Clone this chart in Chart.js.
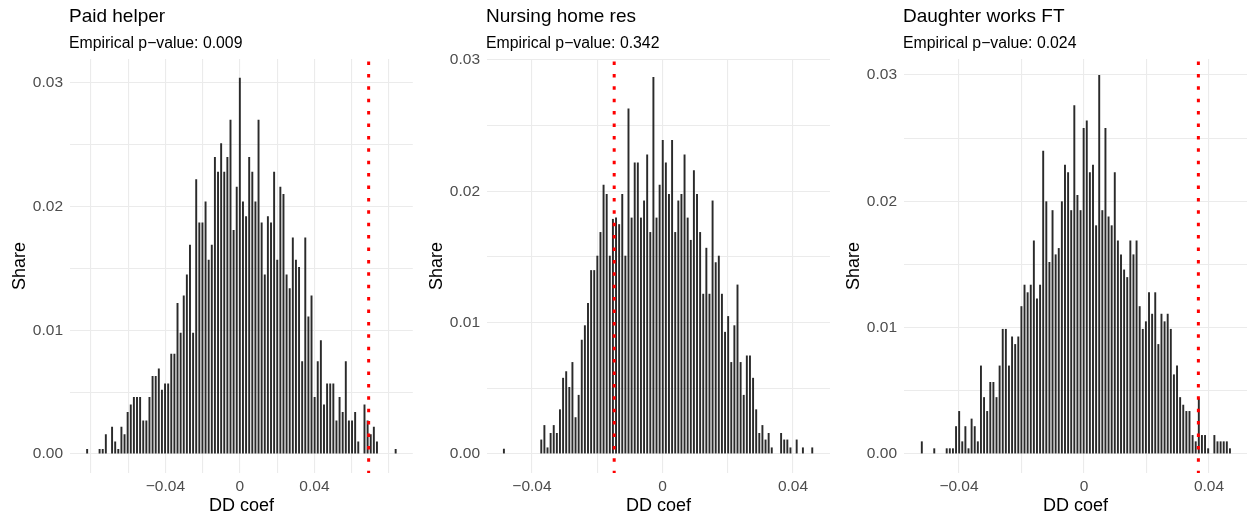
<!DOCTYPE html>
<html lang="en">
<head>
    <meta charset="UTF-8">
    <title>Placebo DD coefficients</title>
    <script src="https://cdn.jsdelivr.net/npm/chart.js"></script>
    <style>
        body {
            margin: 0;
            background-color: #ffffff;
            font-family: "Liberation Sans", Arial, sans-serif;
        }
        .wrap {
            position: relative;
            width: 1249px;
            height: 519px;
            overflow: hidden;
        }
        .wrap canvas {
            position: absolute;
            top: 0;
        }
    </style>
</head>
<body>
    <div class="wrap">
        <canvas id="helperChart" width="416" height="519" style="left:0px"></canvas>
        <canvas id="nursingChart" width="416" height="519" style="left:417px"></canvas>
        <canvas id="daughterChart" width="415" height="519" style="left:834px"></canvas>
    </div>

    <script>
        // Histogram shares, 100 bins per panel (bin centres run from lo to hi)
        const helperValues = [
            0.0004, 0, 0, 0, 0.0004, 0.0004, 0.0016, 0, 0.0022, 0.0010,
            0.0004, 0.0022, 0.0016, 0.0034, 0.0040, 0.0046, 0.0046, 0.0046, 0.0027, 0.0027,
            0.0046, 0.0063, 0.0063, 0.0069, 0.0052, 0.0057, 0.0057, 0.0081, 0.0081, 0.0122,
            0.0098, 0.0128, 0.0145, 0.0169, 0.0098, 0.0222, 0.0187, 0.0187, 0.0204, 0.0157,
            0.0169, 0.0240, 0.0228, 0.0251, 0.0228, 0.0240, 0.0270, 0.0181, 0.0216, 0.0304,
            0.0204, 0.0192, 0.0240, 0.0228, 0.0204, 0.0270, 0.0187, 0.0145, 0.0192, 0.0187,
            0.0228, 0.0157, 0.0216, 0.0210, 0.0145, 0.0134, 0.0175, 0.0157, 0.0151, 0.0075,
            0.0175, 0.0111, 0.0128, 0.0046, 0.0075, 0.0092, 0.0040, 0.0057, 0.0057, 0.0057,
            0.0027, 0.0046, 0.0034, 0.0075, 0.0027, 0.0027, 0.0034, 0.0010, 0, 0.0040,
            0.0027, 0.0016, 0.0022, 0.0010, 0, 0, 0, 0, 0, 0.0004
        ];
        const nursingValues = [
            0.0004, 0, 0, 0, 0, 0, 0, 0, 0, 0,
            0, 0, 0.0011, 0.0022, 0.0005, 0.0016, 0.0022, 0.0016, 0.0034, 0.0058,
            0.0063, 0.0051, 0.0070, 0.0028, 0.0045, 0.0087, 0.0098, 0.0115, 0.0140, 0.0140,
            0.0151, 0.0169, 0.0205, 0.0198, 0.0151, 0.0179, 0.0180, 0.0175, 0.0198, 0.0151,
            0.0263, 0.0180, 0.0222, 0.0222, 0.0180, 0.0193, 0.0228, 0.0169, 0.0287, 0.0180,
            0.0205, 0.0239, 0.0222, 0.0198, 0.0239, 0.0169, 0.0193, 0.0198, 0.0228, 0.0180,
            0.0163, 0.0216, 0.0198, 0.0169, 0.0122, 0.0157, 0.0122, 0.0193, 0.0146, 0.0151,
            0.0122, 0.0093, 0.0105, 0.0070, 0.0098, 0.0129, 0.0070, 0.0045, 0.0075, 0.0075,
            0.0058, 0.0034, 0.0016, 0.0022, 0.0011, 0.0016, 0.0005, 0, 0, 0.0016,
            0.0011, 0.0011, 0.0005, 0, 0.0011, 0, 0.0005, 0, 0, 0.0005
        ];
        const daughterValues = [
            0.0010, 0, 0, 0, 0.00045, 0, 0, 0, 0.00045, 0.00045,
            0.00045, 0.0022, 0.0034, 0.0010, 0.0022, 0.00045, 0.0028, 0.0022, 0.0010, 0.0070,
            0.0045, 0.0034, 0.0057, 0.0057, 0.0045, 0.0070, 0.0099, 0.0099, 0.0070, 0.0093,
            0.0087, 0.0093, 0.0117, 0.0134, 0.0128, 0.0134, 0.0169, 0.0123, 0.0134, 0.0240,
            0.0200, 0.0152, 0.0193, 0.0158, 0.0163, 0.0200, 0.0229, 0.0223, 0.0193, 0.0276,
            0.0205, 0.0193, 0.0258, 0.0264, 0.0223, 0.0229, 0.0181, 0.0300, 0.0193, 0.0258,
            0.0188, 0.0181, 0.0223, 0.0169, 0.0158, 0.0146, 0.0140, 0.0169, 0.0158, 0.0169,
            0.0117, 0.0099, 0.0105, 0.0128, 0.0111, 0.0128, 0.0087, 0.0111, 0.0105, 0.0111,
            0.0099, 0.0063, 0.0070, 0.0045, 0.0039, 0.0034, 0.0034, 0.0015, 0.0010, 0.0044,
            0.0015, 0.0015, 0.00045, 0, 0.0015, 0.0010, 0.0010, 0.0010, 0.0010, 0.00045
        ];

        // First and last bin centre of each histogram
        const helperBins = [-0.0820, 0.0836];
        const nursingBins = [-0.0486, 0.0459];
        const daughterBins = [-0.0519, 0.0467];

        // Actual DD estimates (red dotted lines)
        const helperEstimate = 0.0691;
        const nursingEstimate = -0.0148;
        const daughterEstimate = 0.0366;

        // Axis ticks
        const xTicks = [-0.08, -0.06, -0.04, -0.02, 0, 0.02, 0.04, 0.06, 0.08];
        const xTickLabels = ['', '', '\u22120.04', '', '0', '', '0.04', '', ''];
        const yTicks = [0, 0.005, 0.01, 0.015, 0.02, 0.025, 0.03];
        const yTickLabels = ['0.00', '', '0.01', '', '0.02', '', '0.03'];

        const FONT = '"Liberation Sans", Arial, sans-serif';
        const GRID = '#ebebeb';

        // Title + subtitle aligned with the panel's left edge
        const headerPlugin = {
            id: 'header',
            afterDraw(chart, args, opts) {
                const ctx = chart.ctx;
                const left = chart.chartArea.left - 1;
                ctx.save();
                ctx.fillStyle = '#000000';
                ctx.textAlign = 'left';
                ctx.textBaseline = 'alphabetic';
                ctx.font = '19px ' + FONT;
                ctx.fillText(opts.title, left, 22);
                ctx.font = '15.8px ' + FONT;
                ctx.fillText(opts.subtitle, left, 48);
                ctx.restore();
            }
        };

        // Red dotted vertical line at the observed estimate
        const estimatePlugin = {
            id: 'estimate',
            afterDatasetsDraw(chart, args, opts) {
                const ctx = chart.ctx;
                const x = chart.scales.x.getPixelForValue(opts.value);
                const area = chart.chartArea;
                ctx.save();
                ctx.strokeStyle = '#ff0000';
                ctx.lineWidth = 3;
                ctx.setLineDash([3.5, 8.9]);
                ctx.lineDashOffset = -2.5;
                ctx.beginPath();
                ctx.moveTo(x, area.top);
                ctx.lineTo(x, area.bottom);
                ctx.stroke();
                ctx.restore();
            }
        };

        function makePanel(id, cfg) {
            const n = cfg.values.length;
            const step = (cfg.bins[1] - cfg.bins[0]) / (n - 1);
            const points = cfg.values.map((v, i) => ({ x: cfg.bins[0] + i * step, y: v }));

            return new Chart(document.getElementById(id), {
                type: 'bar',
                data: {
                    datasets: [{
                        data: points,
                        backgroundColor: '#2a2a2a',
                        borderWidth: 0,
                        barPercentage: 0.62,
                        categoryPercentage: 1
                    }]
                },
                options: {
                    responsive: false,
                    animation: false,
                    devicePixelRatio: 1,
                    layout: {
                        padding: { top: 59, right: cfg.padRight, bottom: 0, left: 0 }
                    },
                    plugins: {
                        legend: { display: false },
                        tooltip: { enabled: false },
                        header: { title: cfg.title, subtitle: cfg.subtitle },
                        estimate: { value: cfg.estimate }
                    },
                    scales: {
                        x: {
                            type: 'linear',
                            offset: false,
                            min: cfg.xRange[0],
                            max: cfg.xRange[1],
                            border: { display: false },
                            grid: { color: GRID, lineWidth: 1.1, drawTicks: false, offset: false },
                            afterBuildTicks: (scale) => {
                                scale.ticks = xTicks
                                    .filter(v => v >= scale.min && v <= scale.max)
                                    .map(v => ({ value: v }));
                            },
                            afterFit: (scale) => { scale.height = 46; },
                            ticks: {
                                autoSkip: false,
                                maxRotation: 0,
                                padding: 4.5,
                                color: '#4d4d4d',
                                font: { family: FONT, size: 15.5 },
                                callback: (value) => {
                                    const k = xTicks.findIndex(t => Math.abs(t - value) < 1e-9);
                                    return k >= 0 ? xTickLabels[k] : '';
                                }
                            },
                            title: {
                                display: true,
                                text: 'DD coef',
                                color: '#000000',
                                font: { family: FONT, size: 18 },
                                padding: { top: 0, bottom: 2 }
                            }
                        },
                        y: {
                            min: cfg.yRange[0],
                            max: cfg.yRange[1],
                            border: { display: false },
                            grid: { color: GRID, lineWidth: 1.1, drawTicks: false },
                            afterBuildTicks: (scale) => {
                                scale.ticks = yTicks.map(v => ({ value: v }));
                            },
                            afterFit: (scale) => { scale.width = 70; },
                            ticks: {
                                autoSkip: false,
                                padding: 7,
                                color: '#4d4d4d',
                                font: { family: FONT, size: 15.5 },
                                callback: (value) => {
                                    const k = yTicks.findIndex(t => Math.abs(t - value) < 1e-9);
                                    return k >= 0 ? yTickLabels[k] : '';
                                }
                            },
                            title: {
                                display: true,
                                text: 'Share',
                                color: '#000000',
                                font: { family: FONT, size: 18 },
                                padding: { top: 9, bottom: 0 }
                            }
                        }
                    }
                },
                plugins: [headerPlugin, estimatePlugin]
            });
        }

        makePanel('helperChart', {
            values: helperValues,
            bins: helperBins,
            estimate: helperEstimate,
            title: 'Paid helper',
            subtitle: 'Empirical p\u2212value: 0.009',
            xRange: [-0.0912, 0.0928],
            yRange: [-0.001535, 0.031914],
            padRight: 3.2
        });

        makePanel('nursingChart', {
            values: nursingValues,
            bins: nursingBins,
            estimate: nursingEstimate,
            title: 'Nursing home res',
            subtitle: 'Empirical p\u2212value: 0.342',
            xRange: [-0.05378, 0.05134],
            yRange: [-0.001447, 0.030077],
            padRight: 3
        });

        makePanel('daughterChart', {
            values: daughterValues,
            bins: daughterBins,
            estimate: daughterEstimate,
            title: 'Daughter works FT',
            subtitle: 'Empirical p\u2212value: 0.024',
            xRange: [-0.0576, 0.05216],
            yRange: [-0.001504, 0.031267],
            padRight: 2
        });
    </script>
</body>
</html>
